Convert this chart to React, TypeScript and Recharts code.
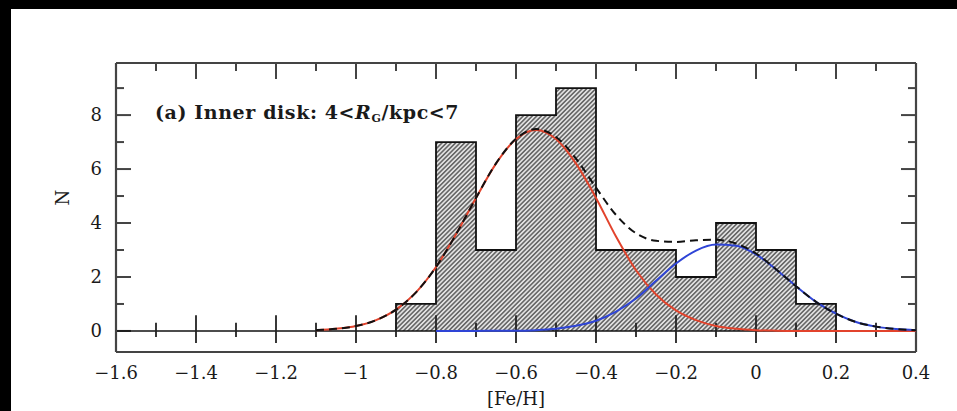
import React from 'react';
import {
  ComposedChart,
  Area,
  Line,
  XAxis,
  YAxis,
  ReferenceLine,
  Label,
} from 'recharts';

// histogram of [Fe/H], bin width 0.1
const binEdges = [-0.9, -0.8, -0.7, -0.6, -0.5, -0.4, -0.3, -0.2, -0.1, 0.0, 0.1];
const binCounts = [1, 7, 3, 8, 9, 3, 3, 2, 4, 3, 1];
const lastEdge = 0.2;

// fitted curves
const fehGrid = [
  -1.1, -1.05, -1.0, -0.95, -0.9, -0.85, -0.8, -0.75, -0.7, -0.65, -0.6, -0.55, -0.5, -0.45, -0.4, -0.35,
  -0.3, -0.25, -0.2, -0.15, -0.1, -0.05, 0.0, 0.05, 0.1, 0.15, 0.2, 0.25, 0.3, 0.35, 0.4,
];
const metalPoor = [
  0.03, 0.08, 0.18, 0.4, 0.79, 1.43, 2.37, 3.58, 4.93, 6.2, 7.11, 7.45, 7.11, 6.2, 4.93, 3.5,
  2.25, 1.35, 0.76, 0.4, 0.18, 0.08, 0.03, 0.01, 0, 0, 0, 0, 0, 0, 0,
];
const metalRich = [
  null, null, null, null, null, null, 0, 0, 0, 0.01, 0.01, 0.03, 0.08, 0.19, 0.38, 0.72,
  1.2, 1.86, 2.5, 2.98, 3.2, 3.16, 2.84, 2.28, 1.66, 1.08, 0.64, 0.33, 0.16, 0.07, 0.03,
];
const combined = [
  0.03, 0.08, 0.18, 0.4, 0.79, 1.43, 2.37, 3.58, 4.93, 6.21, 7.12, 7.48, 7.19, 6.39, 5.31, 4.3,
  3.62, 3.34, 3.3, 3.36, 3.38, 3.24, 2.87, 2.29, 1.66, 1.08, 0.64, 0.33, 0.16, 0.07, 0.03,
];

const xMajor = [-1.6, -1.4, -1.2, -1, -0.8, -0.6, -0.4, -0.2, 0, 0.2, 0.4];
const xMinor = [-1.5, -1.3, -1.1, -0.9, -0.7, -0.5, -0.3, -0.1, 0.1, 0.3];
const yMajor = [0, 2, 4, 6, 8];
const yMinor = [1, 3, 5, 7, 9];

const histData = [
  { feh: binEdges[0], n: 0 },
  ...binEdges.map((e, i) => ({ feh: e, n: binCounts[i] })),
  { feh: lastEdge, n: binCounts[binCounts.length - 1] },
  { feh: lastEdge, n: 0 },
];
const curveData = fehGrid.map((x, i) => ({
  feh: x,
  poor: metalPoor[i],
  rich: metalRich[i],
  sum: combined[i],
}));
const zeroLine = [
  { feh: -1.6, v: 0 },
  { feh: 0.4, v: 0 },
];

const FONT = '"DejaVu Serif", serif';
const FRAME = '#444';
const X_DOMAIN: [number, number] = [-1.6, 0.4];
const Y_DOMAIN: [number, number] = [-0.78, 9.93];
const PLOT_W = 800;
const PLOT_H = 289;
// pixel -> data unit helpers for the inward tick marks
const dx = (px: number) => (px * (X_DOMAIN[1] - X_DOMAIN[0])) / PLOT_W;
const dy = (px: number) => (px * (Y_DOMAIN[1] - Y_DOMAIN[0])) / PLOT_H;

const fmtX = (v: number) => {
  if (v === 0) return '0';
  const s = Math.abs(v).toString();
  return v < 0 ? '\u2212' + s : s;
};

export default function App() {
  const tickStyle = { fontFamily: FONT, fontSize: 18, fill: '#1a1a1a' };
  const [x0, x1] = X_DOMAIN;
  const y1 = Y_DOMAIN[1];
  const frameTicks: { a: { x: number; y: number }; b: { x: number; y: number } }[] = [];
  xMajor.slice(1, -1).forEach((t) => frameTicks.push({ a: { x: t, y: y1 }, b: { x: t, y: y1 - dy(16) } }));
  xMinor.forEach((t) => frameTicks.push({ a: { x: t, y: y1 }, b: { x: t, y: y1 - dy(8) } }));
  yMajor.forEach((t) => {
    frameTicks.push({ a: { x: x0, y: t }, b: { x: x0 + dx(15), y: t } });
    frameTicks.push({ a: { x: x1, y: t }, b: { x: x1 - dx(15), y: t } });
  });
  yMinor.forEach((t) => {
    frameTicks.push({ a: { x: x0, y: t }, b: { x: x0 + dx(8), y: t } });
    frameTicks.push({ a: { x: x1, y: t }, b: { x: x1 - dx(8), y: t } });
  });

  return (
    <div style={{ position: 'absolute', left: 0, top: 0, width: 957, height: 411, background: '#000' }}>
      <div style={{ position: 'absolute', left: 11, top: 9, width: 946, height: 402, background: '#fff' }} />
      <svg width={0} height={0} style={{ position: 'absolute' }}>
        <defs>
          <pattern id="hatch" width={3.2} height={3.2} patternUnits="userSpaceOnUse" patternTransform="rotate(45)">
            <rect width={3.2} height={3.2} fill="#e2e2e2" />
            <line x1={0.8} y1={0} x2={0.8} y2={3.2} stroke="#404040" strokeWidth={1.2} />
          </pattern>
        </defs>
      </svg>
      <div style={{ position: 'absolute', left: 0, top: 0 }}>
        <ComposedChart width={957} height={411} margin={{ top: 63, right: 41, bottom: 0, left: 0 }}>
          <XAxis
            xAxisId="x"
            dataKey="feh"
            type="number"
            domain={X_DOMAIN}
            allowDataOverflow
            ticks={xMajor}
            tickFormatter={fmtX}
            tickLine={false}
            tickSize={6}
            tickMargin={8}
            height={59}
            axisLine={{ stroke: FRAME, strokeWidth: 2.2 }}
            tick={tickStyle}
            interval={0}
          >
            <Label value="[Fe/H]" position="insideBottom" offset={6} style={{ fontFamily: FONT, fontSize: 18, fill: '#1a1a1a' }} />
          </XAxis>
          <YAxis
            yAxisId="y"
            type="number"
            domain={Y_DOMAIN}
            allowDataOverflow
            ticks={yMajor}
            interval={0}
            width={116}
            tickLine={false}
            tickSize={4}
            tickMargin={10}
            axisLine={{ stroke: FRAME, strokeWidth: 2.2 }}
            tick={tickStyle}
          >
            <Label value="N" angle={-90} position="center" dx={5} dy={-10} style={{ fontFamily: FONT, fontSize: 18, fill: '#1a1a1a' }} />
          </YAxis>

          <Area
            xAxisId="x"
            yAxisId="y"
            data={histData}
            dataKey="n"
            type="stepAfter"
            fill="url(#hatch)"
            fillOpacity={1}
            stroke="#111"
            strokeWidth={1.8}
            isAnimationActive={false}
            dot={false}
            activeDot={false}
          />
          <ReferenceLine xAxisId="x" yAxisId="y" y={y1} stroke={FRAME} strokeWidth={2.2} />
          <ReferenceLine xAxisId="x" yAxisId="y" x={x1} stroke={FRAME} strokeWidth={2.2} />
          {frameTicks.map((s, i) => (
            <ReferenceLine
              key={`ft${i}`}
              xAxisId="x"
              yAxisId="y"
              segment={[s.a, s.b]}
              stroke={FRAME}
              strokeWidth={2}
            />
          ))}
          <Line
            xAxisId="x"
            yAxisId="y"
            data={zeroLine}
            dataKey="v"
            stroke="#111"
            strokeWidth={1.6}
            dot={false}
            activeDot={false}
            isAnimationActive={false}
          />
          {xMajor.slice(1, -1).map((t) => (
            <ReferenceLine
              key={`zmaj${t}`}
              xAxisId="x"
              yAxisId="y"
              segment={[{ x: t, y: -0.45 }, { x: t, y: 0.58 }]}
              stroke="#222"
              strokeWidth={1.8}
            />
          ))}
          {xMinor.map((t) => (
            <ReferenceLine
              key={`zmin${t}`}
              xAxisId="x"
              yAxisId="y"
              segment={[{ x: t, y: -0.22 }, { x: t, y: 0.3 }]}
              stroke="#222"
              strokeWidth={1.8}
            />
          ))}
          <Line
            xAxisId="x"
            yAxisId="y"
            data={curveData}
            dataKey="poor"
            type="monotone"
            stroke="#e2432c"
            strokeWidth={2}
            dot={false}
            activeDot={false}
            isAnimationActive={false}
          />
          <Line
            xAxisId="x"
            yAxisId="y"
            data={curveData}
            dataKey="rich"
            type="monotone"
            stroke="#2e44d6"
            strokeWidth={2}
            dot={false}
            activeDot={false}
            isAnimationActive={false}
          />
          <Line
            xAxisId="x"
            yAxisId="y"
            data={curveData}
            dataKey="sum"
            type="monotone"
            stroke="#111"
            strokeWidth={2}
            strokeDasharray="8 5"
            dot={false}
            activeDot={false}
            isAnimationActive={false}
          />
        </ComposedChart>
      </div>
      <div
        style={{
          position: 'absolute',
          left: 155,
          top: 100,
          fontFamily: FONT,
          fontSize: 19,
          fontWeight: 'bold',
          letterSpacing: 0.6,
          color: '#1a1a1a',
          whiteSpace: 'nowrap',
          lineHeight: '24px',
        }}
      >
        (a) Inner disk: 4&lt;<i>R</i>
        <sub style={{ fontSize: 11, verticalAlign: '-3px' }}>G</sub>/kpc&lt;7
      </div>
    </div>
  );
}
